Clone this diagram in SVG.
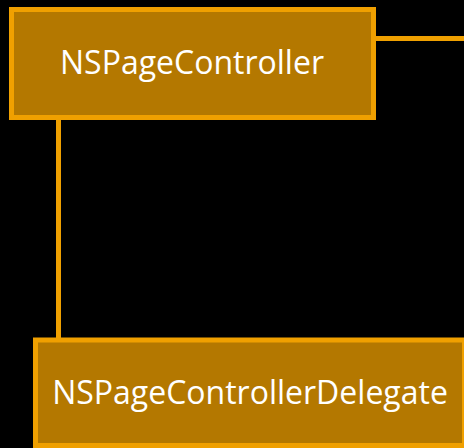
<svg xmlns="http://www.w3.org/2000/svg" width="464" height="448" viewBox="0 0 464 448">
<style>
.node{fill:#B47800;stroke:#F0A000;stroke-width:5}
.lbl{font-family:"Open Sans","DejaVu Sans",sans-serif;font-size:32px;fill:#ffffff;text-anchor:middle}
.edge{stroke:#F0A000;stroke-width:5;fill:none}
</style>
<rect width="464" height="448" fill="#000000"/>
<g id="connectors">
<line class="edge" x1="376" y1="38.5" x2="464" y2="38.5"/>
<line class="edge" x1="58.5" y1="120" x2="58.5" y2="338"/>
</g>
<g id="NSPageController">
<rect class="node" x="11.5" y="9.5" width="362" height="108"/>
<text class="lbl" x="192" y="74">NSPageController</text>
</g>
<g id="NSPageControllerDelegate">
<rect class="node" x="35.5" y="340" width="429" height="105.5"/>
<text class="lbl" x="250" y="404">NSPageControllerDelegate</text>
</g>
</svg>
